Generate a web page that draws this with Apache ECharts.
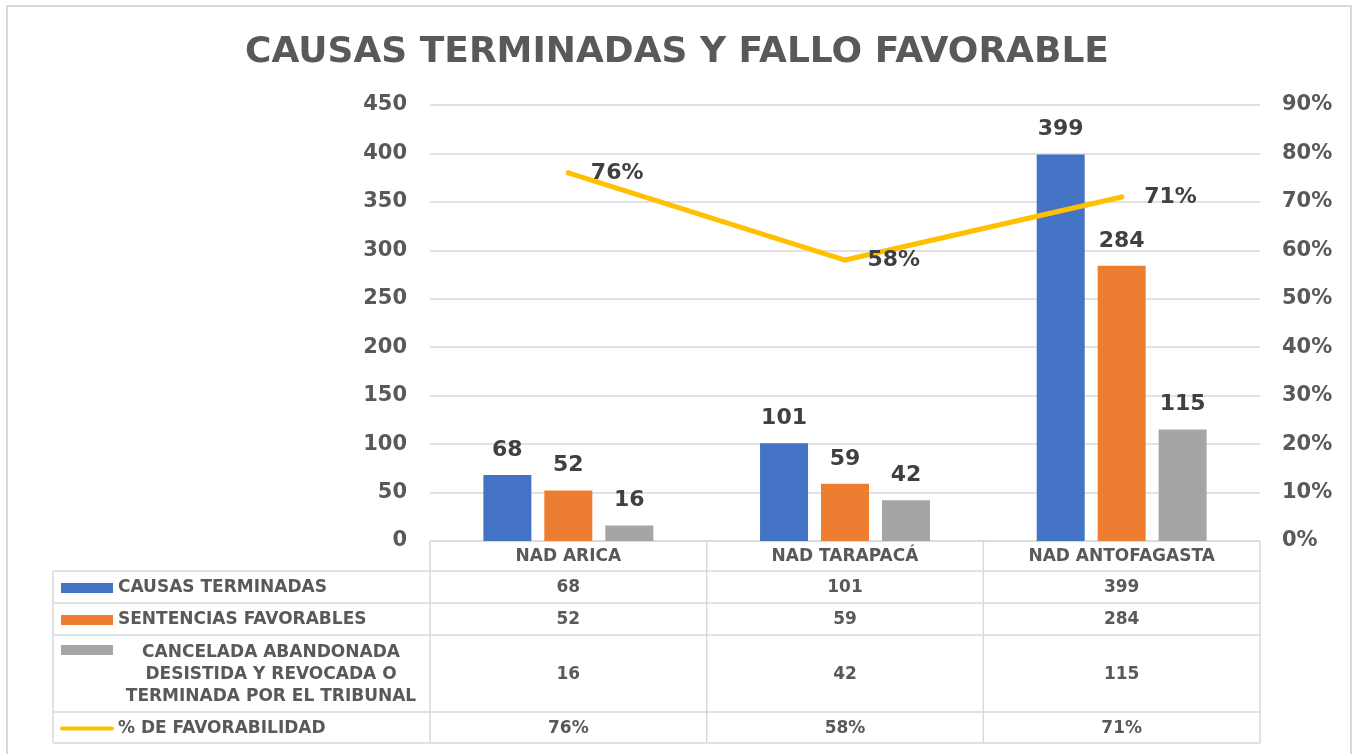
<!DOCTYPE html>
<html>

<head>
    <meta charset="UTF-8">
    <title>Causas terminadas y fallo favorable</title>
    <style>
        body { margin: 0; background: #fff; }
    </style>
</head>

<body>
    <div id="main" style="width: 1354px;height:754px;"></div>

    <script src="https://cdn.jsdelivr.net/npm/echarts@6/dist/echarts.min.js"></script>
    <script type="text/javascript">
        // datos
        var categorias = ['NAD ARICA', 'NAD TARAPACÁ', 'NAD ANTOFAGASTA'];
        var causasTerminadas = [68, 101, 399];
        var sentenciasFavorables = [52, 59, 284];
        var canceladas = [16, 42, 115];
        var favorabilidad = [76, 58, 71]; // en %
        var nombres = [
            'CAUSAS TERMINADAS',
            'SENTENCIAS FAVORABLES',
            'CANCELADA ABANDONADA\nDESISTIDA Y REVOCADA O\nTERMINADA POR EL TRIBUNAL',
            '% DE FAVORABILIDAD'
        ];
        var colores = ['#4472C4', '#ED7D31', '#A5A5A5', '#FFC000'];

        var fuente = '"DejaVu Sans", sans-serif';
        var gris = '#595959';
        var oscuro = '#404040';
        var borde = '#d9d9d9';
        var fuenteTabla = 'bold 17px ' + fuente;

        // geometria de la grilla y tabla
        var gLeft = 430, gRight = 1260, gTop = 105, gBottom = 541;
        var colW = (gRight - gLeft) / categorias.length;
        var tablaIzq = 53;
        var filas = [541, 571, 603, 635, 712, 743]; // bordes horizontales

        var myChart = echarts.init(document.getElementById('main'));

        var graficos = [];
        // marco exterior
        graficos.push({
            type: 'rect', silent: true,
            shape: { x: 7, y: 6, width: 1344, height: 770 },
            style: { fill: 'none', stroke: borde, lineWidth: 2 }
        });
        // lineas horizontales de la tabla
        for (var i = 1; i < filas.length; i++) {
            graficos.push({
                type: 'line', silent: true,
                shape: { x1: tablaIzq, y1: filas[i], x2: gRight, y2: filas[i] },
                style: { stroke: borde, lineWidth: 1.5 }
            });
        }
        graficos.push({
            type: 'line', silent: true,
            shape: { x1: gLeft, y1: filas[0], x2: gRight, y2: filas[0] },
            style: { stroke: borde, lineWidth: 1.5 }
        });
        // lineas verticales
        for (var c = 0; c <= categorias.length; c++) {
            graficos.push({
                type: 'line', silent: true,
                shape: { x1: gLeft + c * colW, y1: filas[0], x2: gLeft + c * colW, y2: filas[5] },
                style: { stroke: borde, lineWidth: 1.5 }
            });
        }
        graficos.push({
            type: 'line', silent: true,
            shape: { x1: tablaIzq, y1: filas[1], x2: tablaIzq, y2: filas[5] },
            style: { stroke: borde, lineWidth: 1.5 }
        });

        // cabecera (categorias)
        categorias.forEach(function (cat, k) {
            graficos.push({
                type: 'text', silent: true,
                x: gLeft + (k + 0.5) * colW, y: (filas[0] + filas[1]) / 2 + 1,
                style: { text: cat, fill: gris, font: fuenteTabla, align: 'center', verticalAlign: 'middle' }
            });
        });

        // filas de datos
        var valoresTabla = [
            causasTerminadas,
            sentenciasFavorables,
            canceladas,
            favorabilidad.map(function (v) { return v + '%'; })
        ];
        valoresTabla.forEach(function (serie, f) {
            var yMid = (filas[f + 1] + filas[f + 2]) / 2 + 1;
            serie.forEach(function (v, k) {
                graficos.push({
                    type: 'text', silent: true,
                    x: gLeft + (k + 0.5) * colW, y: yMid,
                    style: { text: String(v), fill: gris, font: fuenteTabla, align: 'center', verticalAlign: 'middle' }
                });
            });
            // muestra de color
            var yTop = filas[f + 1];
            if (f < 3) {
                var ySw = f === 2 ? yTop + 10 : yMid - 5;
                graficos.push({
                    type: 'rect', silent: true,
                    shape: { x: 61, y: ySw, width: 52, height: 10 },
                    style: { fill: colores[f] }
                });
            } else {
                graficos.push({
                    type: 'line', silent: true,
                    shape: { x1: 62, y1: yMid, x2: 112, y2: yMid },
                    style: { stroke: colores[f], lineWidth: 4, lineCap: 'round' }
                });
            }
            // nombre de la serie
            graficos.push({
                type: 'text', silent: true,
                x: f === 2 ? 271 : 118, y: yMid,
                style: {
                    text: nombres[f], fill: gris, font: fuenteTabla,
                    align: f === 2 ? 'center' : 'left', verticalAlign: 'middle', lineHeight: 22
                }
            });
        });

        var etiquetaBarra = {
            show: true, position: 'top', distance: 14,
            color: oscuro, fontSize: 22, fontWeight: 'bold', fontFamily: fuente
        };

        myChart.setOption({
            animation: false,
            textStyle: { fontFamily: fuente },
            title: {
                text: 'CAUSAS TERMINADAS Y FALLO FAVORABLE',
                left: 'center', top: 30,
                textStyle: { color: gris, fontSize: 36, fontWeight: 'bold', fontFamily: fuente }
            },
            grid: { left: gLeft, right: 1354 - gRight, top: gTop, bottom: 754 - gBottom },
            xAxis: {
                type: 'category',
                data: categorias,
                axisLine: { show: false },
                axisTick: { show: false },
                axisLabel: { show: false }
            },
            yAxis: [{
                type: 'value', min: 0, max: 450, interval: 50,
                axisLine: { show: false }, axisTick: { show: false },
                axisLabel: { color: gris, fontSize: 21, fontWeight: 'bold', margin: 23 },
                splitLine: { lineStyle: { color: borde, width: 1.5 } }
            }, {
                type: 'value', min: 0, max: 90, interval: 10,
                axisLine: { show: false }, axisTick: { show: false },
                axisLabel: { color: gris, fontSize: 21, fontWeight: 'bold', margin: 22, formatter: '{value}%' },
                splitLine: { show: false }
            }],
            series: [{
                name: nombres[0], type: 'bar', data: causasTerminadas,
                barWidth: 48, barGap: '27%',
                itemStyle: { color: colores[0] }, label: etiquetaBarra
            }, {
                name: nombres[1], type: 'bar', data: sentenciasFavorables,
                barWidth: 48, barGap: '27%',
                itemStyle: { color: colores[1] }, label: etiquetaBarra
            }, {
                name: nombres[2], type: 'bar', data: canceladas,
                barWidth: 48, barGap: '27%',
                itemStyle: { color: colores[2] }, label: etiquetaBarra
            }, {
                name: nombres[3], type: 'line', yAxisIndex: 1, data: favorabilidad,
                symbol: 'circle', symbolSize: 5, showSymbol: true, z: 5,
                itemStyle: { color: colores[3] },
                lineStyle: { color: colores[3], width: 5, cap: 'round' },
                label: {
                    show: true, position: 'right', distance: 20, formatter: '{c}%',
                    color: oscuro, fontSize: 22, fontWeight: 'bold', fontFamily: fuente
                }
            }],
            graphic: graficos
        });
    </script>
</body>

</html>
